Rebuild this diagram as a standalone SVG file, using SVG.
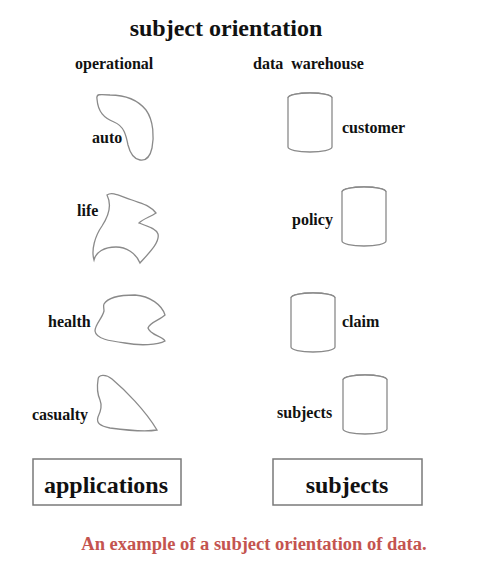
<svg xmlns="http://www.w3.org/2000/svg" xmlns:xlink="http://www.w3.org/1999/xlink" width="482" height="578" viewBox="0 0 482 578">
<style>
text{font-family:'Liberation Serif','DejaVu Serif',serif;font-weight:700;fill:#111}
.t{font-size:24px}
.h{font-size:16px}
.l{font-size:16px}
.b{font-size:24px}
.cap{font-size:18.5px;fill:#c4544f}
.shape{fill:#fff;stroke:#8a8a8a;stroke-width:1.3}
.box{fill:#fff;stroke:#7a7a7a;stroke-width:1.5}
</style>
<defs>
<g id="cyl">
<path class="shape" d="M0,0 L0,49 A22,5 0 0 0 44,49 L44,0 A22,5 0 0 0 0,0 Z"/>
<path class="shape" fill="none" d="M0,0 A22,5 0 0 1 44,0"/>
</g>
</defs>
<rect width="482" height="578" fill="#fff"/>
<text class="t" x="226" y="36" text-anchor="middle">subject orientation</text>
<text class="h" x="75" y="69">operational</text>
<text class="h" x="253" y="69" style="word-spacing:4px">data warehouse</text>
<g id="connectors"></g>
<g id="auto">
<path class="shape" d="M97,99 C96,94 99,94 110,95 C125,95 137,99 146,110 C154,121 154,138 152,148 C150,157 146,161 140,160 C134,159 130,153 128,145 C126,135 124,126 114,122 C104,118 98,112 97,99 Z"/>
<text class="l" x="92" y="143">auto</text>
</g>
<g id="life">
<path class="shape" d="M107,195 C112,191 120,196 132,200 C142,204 150,205 156,213 C150,217 143,219 139,223 C146,226 156,228 158,234 C160,242 150,252 140,263 C136,253 126,247 116,247 C104,247 96,252 94,260 C91,250 95,236 102,226 C108,217 112,205 107,195 Z"/>
<text class="l" x="77" y="216">life</text>
</g>
<g id="health">
<path class="shape" d="M104,304 C108,297 120,295 135,295 C150,296 162,305 165,315 C160,320 150,322 148,328 C150,335 162,336 165,341 C158,345 140,346 125,343 C110,341 96,339 95,331 C95,324 102,319 104,311 C104,308 103,306 104,304 Z"/>
<text class="l" x="48" y="327">health</text>
</g>
<g id="casualty">
<path class="shape" d="M98,380 C98,374 106,374 112,379 C125,390 145,410 157,430 C145,432 125,430 110,428 C100,426 96,423 98,417 C101,411 102,405 100,400 C97,393 97,386 98,380 Z"/>
<text class="l" x="32" y="420">casualty</text>
</g>
<g id="customer">
<use xlink:href="#cyl" transform="translate(288,98)"/>
<text class="l" x="342" y="133">customer</text>
</g>
<g id="policy">
<use xlink:href="#cyl" transform="translate(342,192)"/>
<text class="l" x="292" y="225">policy</text>
</g>
<g id="claim">
<use xlink:href="#cyl" transform="translate(291,298)"/>
<text class="l" x="342" y="327">claim</text>
</g>
<g id="subjects-db">
<use xlink:href="#cyl" transform="translate(343,380)"/>
<text class="l" x="277" y="418">subjects</text>
</g>
<g id="applications">
<rect class="box" x="33" y="459" width="148" height="46"/>
<text class="b" x="106" y="493" text-anchor="middle">applications</text>
</g>
<g id="subjects">
<rect class="box" x="273" y="459" width="149" height="46"/>
<text class="b" x="347" y="493" text-anchor="middle">subjects</text>
</g>
<text class="cap" x="254" y="550" text-anchor="middle">An example of a subject orientation of data.</text>
</svg>
